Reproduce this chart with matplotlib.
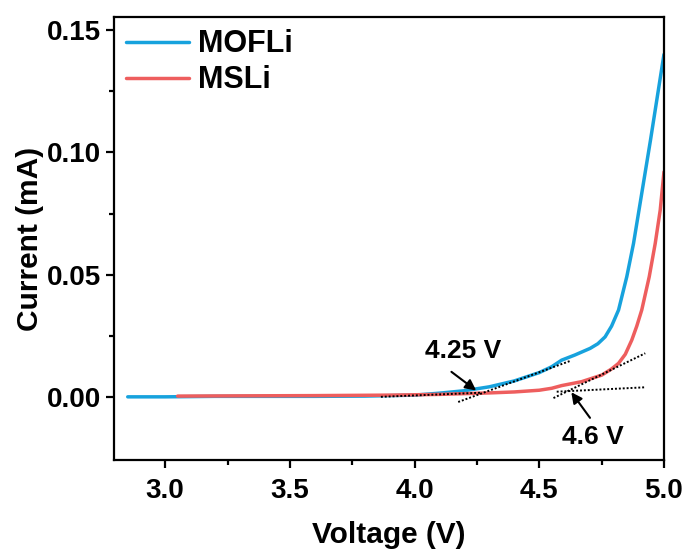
import matplotlib.pyplot as plt

plt.rcParams['font.family'] = ['Liberation Sans', 'DejaVu Sans']
plt.rcParams['font.weight'] = 'bold'

# MOFLi curve
v_mof = [2.85, 3.0, 3.2, 3.4, 3.6, 3.8, 4.0, 4.1, 4.2, 4.3, 4.4, 4.5, 4.55, 4.59,
         4.643, 4.704, 4.735, 4.764, 4.79, 4.818, 4.851, 4.878, 4.946, 5.0]
i_mof = [0.0001, 0.0001, 0.0003, 0.0003, 0.0003, 0.0004, 0.0008, 0.0016, 0.0026,
         0.0042, 0.0066, 0.0100, 0.0124, 0.0151, 0.0172, 0.0199, 0.0218, 0.0246,
         0.029, 0.0356, 0.0492, 0.0628, 0.105, 0.140]

# MSLi curve
v_msl = [3.05, 3.3, 3.6, 3.9, 4.1, 4.3, 4.4, 4.5, 4.55, 4.59, 4.67, 4.751, 4.79,
         4.818, 4.845, 4.871, 4.891, 4.911, 4.941, 4.965, 4.985, 5.0]
i_msl = [0.0004, 0.0005, 0.0006, 0.0008, 0.0011, 0.0017, 0.0021, 0.0028, 0.0036,
         0.0047, 0.0063, 0.0090, 0.0115, 0.0138, 0.0175, 0.0233, 0.029, 0.0356,
         0.0492, 0.0628, 0.0764, 0.092]

# tangent lines (dotted)
tan_mof_base_v = [3.865, 4.27]
tan_mof_base_i = [0.0001, 0.0018]
tan_mof_rise_v = [4.175, 4.622]
tan_mof_rise_i = [-0.002, 0.0147]
tan_msl_base_v = [4.57, 4.925]
tan_msl_base_i = [0.0022, 0.0040]
tan_msl_rise_v = [4.557, 4.925]
tan_msl_rise_i = [-0.0004, 0.0179]

fig = plt.figure(figsize=(6.84, 5.52), dpi=100)
ax = fig.add_axes([0.1667, 0.1667, 0.804, 0.8025])

ax.plot(v_mof, i_mof, color='#17A2DD', lw=2.5, label='MOFLi', solid_capstyle='round')
ax.plot(v_msl, i_msl, color='#EE5E5E', lw=2.5, label='MSLi', solid_capstyle='round')

for tv, ti in [(tan_mof_base_v, tan_mof_base_i), (tan_mof_rise_v, tan_mof_rise_i),
               (tan_msl_base_v, tan_msl_base_i), (tan_msl_rise_v, tan_msl_rise_i)]:
    ax.plot(tv, ti, color='black', ls=(0, (1, 1)), lw=1.4)

ax.annotate('', xy=(4.256, 0.002), xytext=(4.139, 0.011),
            arrowprops=dict(arrowstyle='-|>', color='black', lw=1.5, mutation_scale=16))
ax.text(4.195, 0.0188, '4.25 V', ha='center', va='center', fontsize=19, fontweight='bold')
ax.annotate('', xy=(4.622, 0.0029), xytext=(4.71, -0.0094),
            arrowprops=dict(arrowstyle='-|>', color='black', lw=1.5, mutation_scale=16))
ax.text(4.715, -0.0163, '4.6 V', ha='center', va='center', fontsize=19, fontweight='bold')

ax.set_xlim(2.795, 5.0)
ax.set_ylim(-0.0257, 0.1553)
ax.set_xticks([3.0, 3.5, 4.0, 4.5, 5.0])
ax.set_xticks([3.25, 3.75, 4.25, 4.75], minor=True)
ax.set_yticks([0.0, 0.05, 0.10, 0.15])
ax.set_yticks([0.025, 0.075, 0.125], minor=True)
ax.set_yticklabels(['0.00', '0.05', '0.10', '0.15'])

for s in ax.spines.values():
    s.set_linewidth(1.6)
ax.tick_params(which='major', direction='out', length=6, width=1.6, labelsize=20)
ax.tick_params(axis='x', which='major', pad=7)
ax.tick_params(which='minor', direction='out', length=3.5, width=1.6)

ax.set_xlabel('Voltage (V)', fontsize=21.5, fontweight='bold', labelpad=12)
ax.set_ylabel('Current (mA)', fontsize=21.5, fontweight='bold', labelpad=2)

ax.legend(loc='upper left', frameon=False, fontsize=22, handlelength=2.05,
          handletextpad=0.3, borderpad=0.3, borderaxespad=0.1, labelspacing=0.2)

fig.savefig('out.png', dpi=100)
